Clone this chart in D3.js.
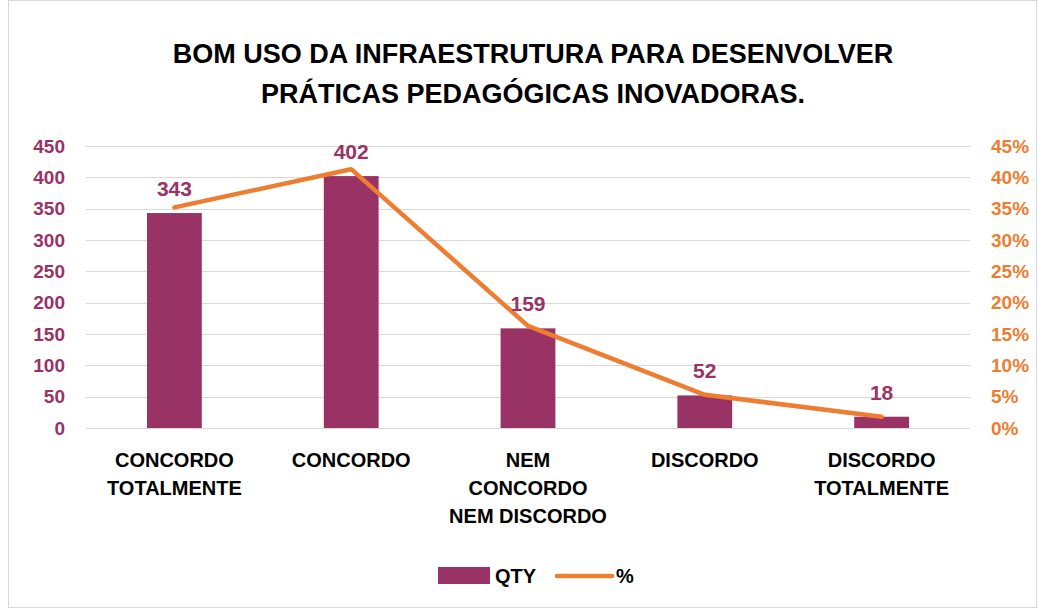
<!DOCTYPE html>
<html lang="en">
<head>
  <meta charset="UTF-8" />
  <title>Bom uso da infraestrutura</title>
  <script src="https://d3js.org/d3.v7.min.js"></script>
  <style>
    body { margin: 0; background: #fff; }
    svg { display: block; font-family: "Liberation Sans Narrow", "Liberation Sans", sans-serif; font-weight: bold; }
  </style>
</head>
<body>
  <svg id="chart" width="1038" height="609"></svg>
  <script>
    const categories = [
      ['CONCORDO', 'TOTALMENTE'],
      ['CONCORDO'],
      ['NEM', 'CONCORDO', 'NEM DISCORDO'],
      ['DISCORDO'],
      ['DISCORDO', 'TOTALMENTE']
    ];
    const qty = [343, 402, 159, 52, 18];
    const pct = [35.2, 41.3, 16.3, 5.3, 1.8];
    const leftTicks = [0, 50, 100, 150, 200, 250, 300, 350, 400, 450];
    const rightTicks = [0, 5, 10, 15, 20, 25, 30, 35, 40, 45];

    const barColor = '#993366';
    const lineColor = '#ED7D31';

    const svg = d3.select('#chart');
    const margin = { left: 86, right: 970, top: 146, bottom: 428 };

    svg.append('rect')
      .attr('x', 8.5).attr('y', 0.5).attr('width', 1028).attr('height', 607)
      .attr('fill', '#fff').attr('stroke', '#d9d9d9');

    const keys = categories.map((c, i) => i);
    const x = d3.scaleBand().domain(keys).range([margin.left, margin.right]).paddingInner(0.69).paddingOuter(0.345);
    const y = d3.scaleLinear().domain([0, 450]).range([margin.bottom, margin.top]);
    const y2 = d3.scaleLinear().domain([0, 45]).range([margin.bottom, margin.top]);

    // title
    const title = svg.append('text').attr('x', 533).attr('text-anchor', 'middle')
      .attr('font-size', 27).attr('fill', '#000');
    title.append('tspan').attr('x', 533).attr('y', 63).text('BOM USO DA INFRAESTRUTURA PARA DESENVOLVER');
    title.append('tspan').attr('x', 533).attr('y', 103).text('PRÁTICAS PEDAGÓGICAS INOVADORAS.');

    // gridlines
    svg.append('g').selectAll('line').data(leftTicks).join('line')
      .attr('x1', margin.left).attr('x2', margin.right)
      .attr('y1', d => Math.round(y(d)) + 0.5).attr('y2', d => Math.round(y(d)) + 0.5)
      .attr('stroke', '#d9d9d9').attr('stroke-width', 1);

    // left axis
    const yAxis = svg.append('g').attr('transform', `translate(${margin.left},0)`)
      .call(d3.axisLeft(y).tickValues(leftTicks).tickSize(0).tickPadding(21));
    yAxis.select('.domain').remove();
    yAxis.selectAll('text').attr('font-size', 19).attr('fill', barColor)
      .attr('font-family', null).attr('font-weight', 'bold');

    // right axis
    const y2Axis = svg.append('g').attr('transform', `translate(${margin.right},0)`)
      .call(d3.axisRight(y2).tickValues(rightTicks).tickSize(0).tickPadding(21).tickFormat(d => d + '%'));
    y2Axis.select('.domain').remove();
    y2Axis.selectAll('text').attr('font-size', 19).attr('fill', lineColor)
      .attr('font-family', null).attr('font-weight', 'bold');

    // bars
    svg.append('g').selectAll('rect').data(qty).join('rect')
      .attr('x', (d, i) => x(i)).attr('width', x.bandwidth())
      .attr('y', d => y(d)).attr('height', d => y(0) - y(d))
      .attr('fill', barColor);

    // line
    const line = d3.line().x((d, i) => x(i) + x.bandwidth() / 2).y(d => y2(d));
    svg.append('path').datum(pct).attr('d', line)
      .attr('fill', 'none').attr('stroke', lineColor).attr('stroke-width', 4.5)
      .attr('stroke-linejoin', 'round').attr('stroke-linecap', 'round');

    // data labels
    svg.append('g').selectAll('text').data(qty).join('text')
      .attr('x', (d, i) => x(i) + x.bandwidth() / 2)
      .attr('y', d => y(d) - 17)
      .attr('text-anchor', 'middle').attr('font-size', 21).attr('fill', barColor)
      .text(d => d);

    // category labels
    const cat = svg.append('g').selectAll('text').data(categories).join('text')
      .attr('text-anchor', 'middle').attr('font-size', 20).attr('fill', '#000');
    cat.each(function (lines, i) {
      const t = d3.select(this);
      lines.forEach((l, j) => {
        t.append('tspan').attr('x', x(i) + x.bandwidth() / 2)
          .attr('y', 467 + j * 28).text(l);
      });
    });

    // legend
    const lg = svg.append('g');
    lg.append('rect').attr('x', 438).attr('y', 567).attr('width', 52).attr('height', 17).attr('fill', barColor);
    lg.append('text').attr('x', 495).attr('y', 583).attr('font-size', 20).attr('fill', '#000').text('QTY');
    lg.append('line').attr('x1', 557).attr('x2', 612).attr('y1', 576).attr('y2', 576)
      .attr('stroke', lineColor).attr('stroke-width', 4.5).attr('stroke-linecap', 'round');
    lg.append('text').attr('x', 616).attr('y', 583).attr('font-size', 20).attr('fill', '#000').text('%');
  </script>
</body>
</html>
